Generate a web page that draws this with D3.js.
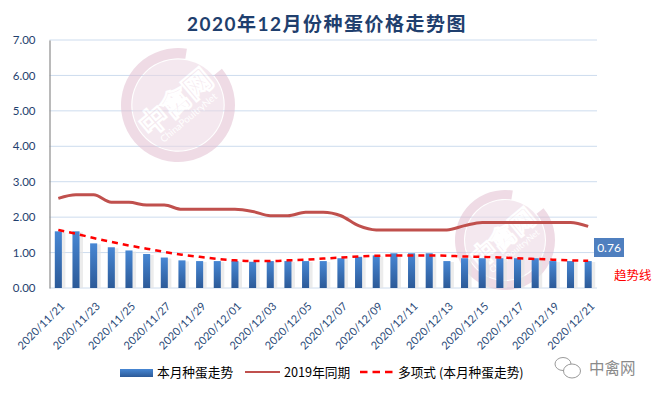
<!DOCTYPE html>
<html>
<head>
<meta charset="utf-8">
<script src="https://cdn.jsdelivr.net/npm/d3@7"></script>
<style>
  html, body { margin: 0; padding: 0; background: #fff; }
  svg { display: block; }
</style>
</head>
<body>
<div id="chart"></div>
<script>
// 2020年12月份种蛋价格走势图 - bars + 2019 line + polynomial trend

const dates = [
  '2020/11/21', '2020/11/22', '2020/11/23', '2020/11/24', '2020/11/25', '2020/11/26',
  '2020/11/27', '2020/11/28', '2020/11/29', '2020/11/30', '2020/12/01', '2020/12/02',
  '2020/12/03', '2020/12/04', '2020/12/05', '2020/12/06', '2020/12/07', '2020/12/08',
  '2020/12/09', '2020/12/10', '2020/12/11', '2020/12/12', '2020/12/13', '2020/12/14',
  '2020/12/15', '2020/12/16', '2020/12/17', '2020/12/18', '2020/12/19', '2020/12/20',
  '2020/12/21'
];

// 本月种蛋走势
const thisMonth = [
  1.60, 1.60, 1.26, 1.15, 1.06, 0.96, 0.86, 0.78, 0.76, 0.76, 0.76, 0.74,
  0.76, 0.76, 0.76, 0.76, 0.84, 0.88, 0.92, 0.98, 0.98, 0.98, 0.76, 0.84,
  0.84, 0.84, 0.84, 0.84, 0.76, 0.76, 0.76
];

// 2019年同期
const lastYear = [
  2.53, 2.63, 2.63, 2.42, 2.42, 2.34, 2.34, 2.22, 2.22, 2.22, 2.22, 2.16,
  2.04, 2.04, 2.14, 2.14, 2.04, 1.76, 1.64, 1.64, 1.64, 1.64, 1.64, 1.76,
  1.85, 1.85, 1.85, 1.85, 1.85, 1.85, 1.74
];

// 多项式 (本月种蛋走势)
const trend = [
  1.64, 1.53, 1.41, 1.30, 1.20, 1.11, 1.02, 0.94, 0.88, 0.82, 0.78, 0.76,
  0.76, 0.78, 0.80, 0.83, 0.86, 0.89, 0.91, 0.92, 0.92, 0.92, 0.91, 0.89,
  0.88, 0.86, 0.84, 0.82, 0.80, 0.78, 0.77
];

const yTicks = [0, 1, 2, 3, 4, 5, 6, 7];

const W = 656, H = 396;
const plot = { left: 49.5, right: 597, top: 40, bottom: 288 };
const latin = "Lato, 'Noto Sans CJK SC', sans-serif";
const cjk = "'Noto Sans CJK SC', sans-serif";

const svg = d3.select('#chart').append('svg')
  .attr('width', W).attr('height', H);

const defs = svg.append('defs');
const grad = defs.append('linearGradient')
  .attr('id', 'barGrad').attr('x1', 0).attr('y1', 0).attr('x2', 0).attr('y2', 1);
grad.append('stop').attr('offset', '0%').attr('stop-color', '#4787d4');
grad.append('stop').attr('offset', '100%').attr('stop-color', '#2c5a98');

const x = d3.scaleBand()
  .domain(dates)
  .range([plot.left, plot.right])
  .paddingInner(0.6)
  .paddingOuter(0.3);

const y = d3.scaleLinear()
  .domain([0, 7])
  .range([plot.bottom, plot.top]);

const cx = d => x(d) + x.bandwidth() / 2;

// gridlines
svg.append('g')
  .selectAll('line')
  .data(yTicks)
  .join('line')
  .attr('x1', plot.left).attr('x2', plot.right)
  .attr('y1', d => y(d)).attr('y2', d => y(d))
  .attr('stroke', '#cddcee')
  .attr('stroke-width', 1);

// y axis
const yAxis = svg.append('g')
  .attr('transform', `translate(${plot.left},0)`)
  .call(d3.axisLeft(y).tickValues(yTicks).tickFormat(d3.format('.2f')).tickSize(0).tickPadding(14));
yAxis.select('.domain').attr('stroke', '#8c8c8c').attr('stroke-width', 1.2);
yAxis.selectAll('text')
  .style('font-family', latin)
  .style('font-size', '11.5px')
  .attr('fill', '#1f3f6e');

// watermark logos
function logo(cxp, cyp, r) {
  const g = svg.append('g').attr('transform', `translate(${cxp},${cyp})`).style('opacity', 0.55);
  g.append('circle').attr('r', r * 0.8).attr('fill', '#ecd6e2');
  g.append('path')
    .attr('d', d3.arc()({ innerRadius: r * 0.82, outerRadius: r, startAngle: Math.PI * 0.28, endAngle: Math.PI * 2.05 }))
    .attr('fill', '#e2bfd1');
  const t = g.append('g').attr('transform', 'rotate(-40)');
  t.append('text')
    .attr('text-anchor', 'middle').attr('y', r * 0.12)
    .style('font-family', cjk).style('font-weight', 'bold')
    .style('font-size', `${r * 0.5}px`)
    .attr('fill', 'none').attr('stroke', '#fff').attr('stroke-width', 2.2)
    .text('中禽网');
  t.append('text')
    .attr('text-anchor', 'middle').attr('y', r * 0.35)
    .style('font-family', latin).style('font-size', `${r * 0.17}px`)
    .attr('fill', '#fff')
    .text('ChinaPoultryNet');
}
logo(178, 105, 57);
logo(505, 240, 50);

// bars shadow + bars
svg.append('g')
  .selectAll('rect')
  .data(dates)
  .join('rect')
  .attr('x', d => x(d) + 1.5)
  .attr('y', (d, i) => y(thisMonth[i]) + 1)
  .attr('width', x.bandwidth() + 2)
  .attr('height', (d, i) => y(0) - y(thisMonth[i]) - 1)
  .attr('fill', '#e4e4e4')
  .attr('opacity', 0.7);

svg.append('g')
  .selectAll('rect')
  .data(dates)
  .join('rect')
  .attr('x', d => x(d))
  .attr('y', (d, i) => y(thisMonth[i]))
  .attr('width', x.bandwidth())
  .attr('height', (d, i) => y(0) - y(thisMonth[i]))
  .attr('fill', 'url(#barGrad)');

// 2019 line
const line = d3.line()
  .x((d, i) => cx(dates[i]))
  .y(d => y(d))
  .curve(d3.curveMonotoneX);

svg.append('path')
  .datum(lastYear)
  .attr('d', line)
  .attr('fill', 'none')
  .attr('stroke', '#c0504d')
  .attr('stroke-width', 3);

// trend line
svg.append('path')
  .datum(trend)
  .attr('d', line)
  .attr('fill', 'none')
  .attr('stroke', '#ff0000')
  .attr('stroke-width', 2.5)
  .attr('stroke-dasharray', '6,5');

// x labels, every other date
const xLabels = dates.filter((d, i) => i % 2 === 0);
svg.append('g')
  .selectAll('text')
  .data(xLabels)
  .join('text')
  .attr('transform', d => `translate(${cx(d) + 7},${plot.bottom + 19}) rotate(-45)`)
  .attr('text-anchor', 'end')
  .style('font-family', latin)
  .style('font-size', '11px')
  .attr('fill', '#2a4a78')
  .text(d => d);

// title
svg.append('text')
  .attr('x', 327).attr('y', 31)
  .attr('text-anchor', 'middle')
  .style('font-family', latin)
  .style('font-weight', 'bold')
  .style('font-size', '19px')
  .style('letter-spacing', '1.5px')
  .attr('fill', '#1f3f6e')
  .text('2020年12月份种蛋价格走势图');

// last value label
const last = dates.length - 1;
svg.append('rect')
  .attr('x', 594).attr('y', 238)
  .attr('width', 30).attr('height', 19)
  .attr('fill', '#4f7fbf');
svg.append('text')
  .attr('x', 609).attr('y', 252)
  .attr('text-anchor', 'middle')
  .style('font-family', latin)
  .style('font-size', '12px')
  .attr('fill', '#fff')
  .text(d3.format('.2f')(thisMonth[last]));

svg.append('text')
  .attr('x', 614).attr('y', 280)
  .style('font-family', cjk)
  .style('font-size', '12.5px')
  .attr('fill', '#ff0000')
  .text('趋势线');

// legend
const lg = svg.append('g').style('font-family', cjk).style('font-size', '12.7px');
lg.append('rect').attr('x', 120).attr('y', 369).attr('width', 33).attr('height', 8).attr('fill', 'url(#barGrad)');
lg.append('text').attr('x', 157).attr('y', 377).attr('fill', '#000').text('本月种蛋走势');
lg.append('line').attr('x1', 245).attr('x2', 280).attr('y1', 372).attr('y2', 372)
  .attr('stroke', '#c0504d').attr('stroke-width', 2);
lg.append('text').attr('x', 284).attr('y', 377).attr('fill', '#000').text('2019年同期');
lg.append('line').attr('x1', 360).attr('x2', 394).attr('y1', 372).attr('y2', 372)
  .attr('stroke', '#ff0000').attr('stroke-width', 2.5).attr('stroke-dasharray', '7.5,5');
lg.append('text').attr('x', 398).attr('y', 377).attr('fill', '#000').text('多项式 (本月种蛋走势)');

// bottom-right brand mark
const bm = svg.append('g').attr('transform', 'translate(565,368)').attr('fill', 'none').attr('stroke', '#9a9a9a').attr('stroke-width', 1);
bm.append('ellipse').attr('cx', -2).attr('cy', -4).attr('rx', 8).attr('ry', 6.5);
bm.append('ellipse').attr('cx', 7).attr('cy', 3).attr('rx', 8.5).attr('ry', 7).attr('fill', '#fff');
svg.append('text')
  .attr('x', 589).attr('y', 374)
  .style('font-family', cjk)
  .style('font-size', '15.5px')
  .attr('fill', '#8a8a8a')
  .text('中禽网');
</script>
</body>
</html>
